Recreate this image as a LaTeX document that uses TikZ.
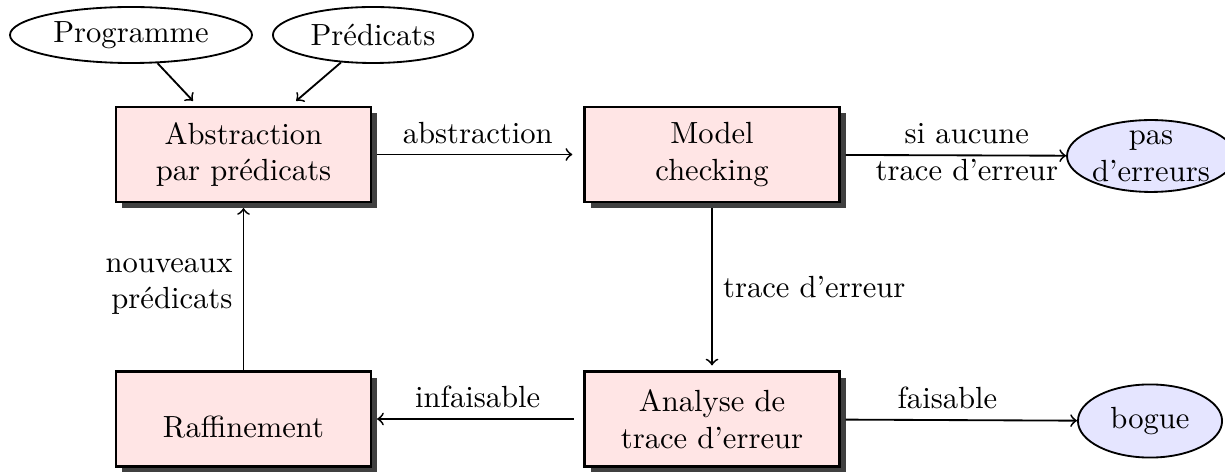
\documentclass[tikz,border=0pt]{standalone}
\usetikzlibrary{shapes.geometric,shadows}
\begin{document}
\begin{tikzpicture}[x=0.3268pt,y=-0.3268pt,
  stepbox/.style={rectangle,draw,thick,fill=red!10,align=center,
    minimum width=83.3pt,minimum height=31pt,outer sep=2pt,
    drop shadow={shadow xshift=2pt,shadow yshift=-2pt,fill=black!75,opacity=1}},
  inell/.style={ellipse,draw,semithick,inner sep=0pt},
  outell/.style={ellipse,draw,semithick,fill=blue!10,inner sep=0pt,align=center},
  arr/.style={->,semithick}]
\useasboundingbox (0,0) rectangle (1225,472);
\node[inell,minimum width=79.1pt,minimum height=18.3pt] (prog) at (131,35) {Programme};
\node[inell,minimum width=65.4pt,minimum height=18.3pt] (pred) at (373,35) {Prédicats};
\node[stepbox] (abs) at (243.5,154.5) {Abstraction\\par prédicats};
\node[stepbox] (mc) at (712,154.5) {Model\\checking};
\node[stepbox] (ana) at (712,419) {Analyse de\\trace d'erreur};
\node[stepbox] (raf) at (243.5,419) {\mbox{}\\Raffinement};
\node[outell,minimum width=54.9pt,minimum height=23.5pt] (pe) at (1151,156) {pas\\d'erreurs};
\node[outell,minimum width=47.1pt,minimum height=23.9pt] (bog) at (1150,421) {bogue};
\draw[arr] (prog) -- ([xshift=-16.5pt]abs.north);
\draw[arr] (pred) -- ([xshift=17.2pt]abs.north);
\draw[arr,shorten >=2pt] (abs) -- node[above]{abstraction} (mc);
\draw[arr] (mc) -- node[pos=.55,align=center,yshift=1pt]{si aucune\\trace d'erreur} (pe);
\draw[arr] (mc) -- node[right]{trace d'erreur} (ana);
\draw[arr,shorten <=1.5pt] (ana) -- node[above]{infaisable} (raf);
\draw[arr] (ana) -- node[above,pos=.44]{faisable} (bog);
\draw[arr,shorten <=-2pt] (raf) -- node[left,align=right]{nouveaux\\prédicats} (abs);
\end{tikzpicture}
\end{document}
